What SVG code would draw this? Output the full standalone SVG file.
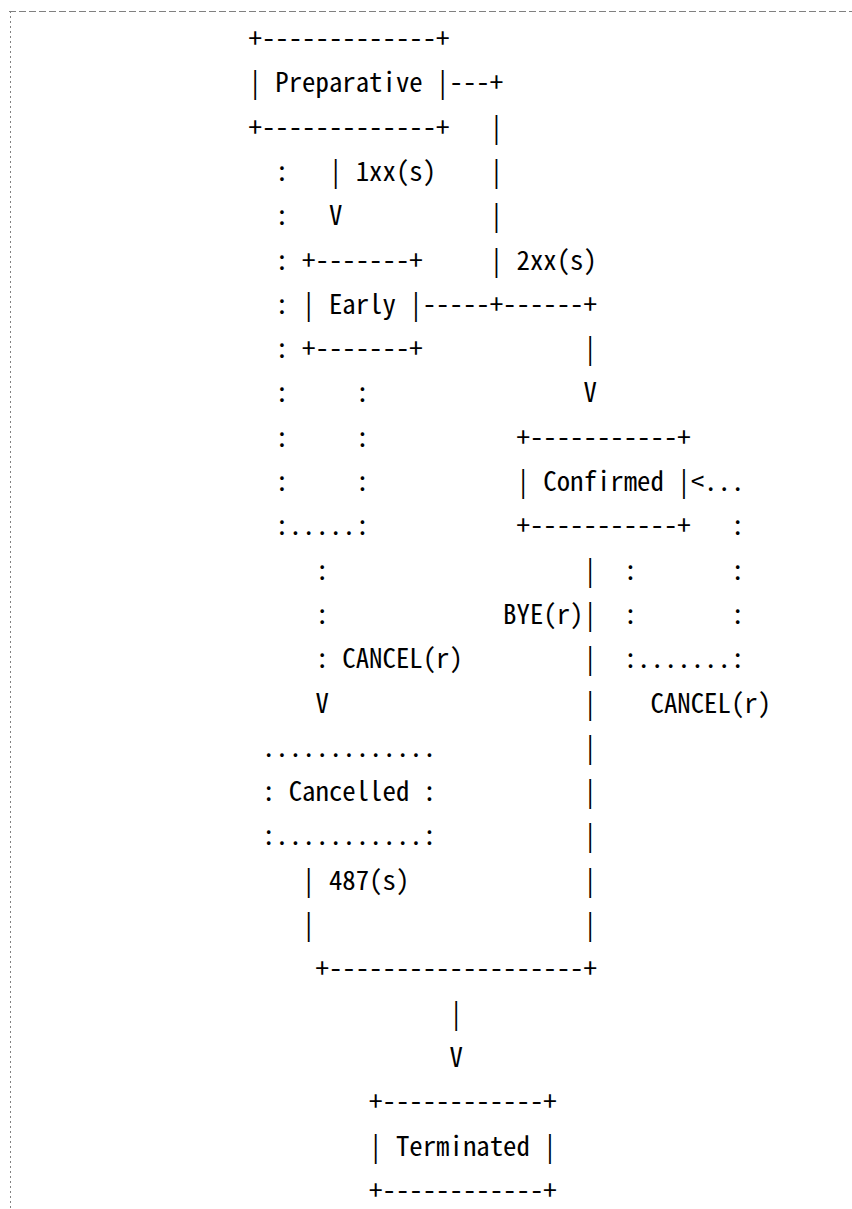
<svg xmlns="http://www.w3.org/2000/svg" width="852" height="1209" viewBox="0 0 852 1209">
<style>
text{font-family:"Noto Sans Mono CJK JP","DejaVu Sans Mono",monospace;font-size:26.8px;fill:#000;white-space:pre}
.f{fill:none;stroke:#808080;stroke-width:1}
</style>
<rect width="852" height="1209" fill="#fff"/>
<g id="frame">
<line class="f" x1="9" y1="11.5" x2="852" y2="11.5" stroke-dasharray="7 3"/>
<line class="f" x1="10.5" y1="11" x2="10.5" y2="1209" stroke-dasharray="2 3"/>
</g>
<g id="node-preparative">
<text x="248.5" y="48" textLength="201" lengthAdjust="spacingAndGlyphs">+-------------+</text>
<text x="248.5" y="92.3">|</text>
<text x="275.3" y="92.3" textLength="147.4" lengthAdjust="spacingAndGlyphs">Preparative</text>
<text x="436.1" y="92.3">|</text>
<text x="248.5" y="136.6" textLength="201" lengthAdjust="spacingAndGlyphs">+-------------+</text>
</g>
<g id="node-early">
<text x="302.1" y="269.5" textLength="120.6" lengthAdjust="spacingAndGlyphs">+-------+</text>
<text x="302.1" y="313.8">|</text>
<text x="328.9" y="313.8" textLength="67" lengthAdjust="spacingAndGlyphs">Early</text>
<text x="409.3" y="313.8">|</text>
<text x="302.1" y="358.1" textLength="120.6" lengthAdjust="spacingAndGlyphs">+-------+</text>
</g>
<g id="node-confirmed">
<text x="516.5" y="446.7" textLength="174.2" lengthAdjust="spacingAndGlyphs">+-----------+</text>
<text x="516.5" y="491">|</text>
<text x="543.3" y="491" textLength="120.6" lengthAdjust="spacingAndGlyphs">Confirmed</text>
<text x="677.3" y="491">|</text>
<text x="516.5" y="535.3" textLength="174.2" lengthAdjust="spacingAndGlyphs">+-----------+</text>
</g>
<g id="node-cancelled">
<text x="261.9" y="756.8" textLength="174.2" lengthAdjust="spacingAndGlyphs">.............</text>
<text x="261.9" y="801.1">:</text>
<text x="288.7" y="801.1" textLength="120.6" lengthAdjust="spacingAndGlyphs">Cancelled</text>
<text x="422.7" y="801.1">:</text>
<text x="261.9" y="845.4" textLength="174.2" lengthAdjust="spacingAndGlyphs">:...........:</text>
</g>
<g id="node-terminated">
<text x="369.1" y="1111.2" textLength="187.6" lengthAdjust="spacingAndGlyphs">+------------+</text>
<text x="369.1" y="1155.5">|</text>
<text x="395.9" y="1155.5" textLength="134" lengthAdjust="spacingAndGlyphs">Terminated</text>
<text x="543.3" y="1155.5">|</text>
<text x="369.1" y="1199.8" textLength="187.6" lengthAdjust="spacingAndGlyphs">+------------+</text>
</g>
<g id="connectors">
<!-- 1xx: Preparative to Early -->
<text x="328.9" y="180.9">|</text>
<text x="355.7" y="180.9" textLength="80.4" lengthAdjust="spacingAndGlyphs">1xx(s)</text>
<text x="328.9" y="225.2">V</text>
<!-- 2xx: Preparative/Early to Confirmed -->
<text x="449.5" y="92.3" textLength="53.6" lengthAdjust="spacingAndGlyphs">---+</text>
<text x="489.7" y="136.6">|</text>
<text x="489.7" y="180.9">|</text>
<text x="489.7" y="225.2">|</text>
<text x="489.7" y="269.5">|</text>
<text x="516.5" y="269.5" textLength="80.4" lengthAdjust="spacingAndGlyphs">2xx(s)</text>
<text x="422.7" y="313.8" textLength="174.2" lengthAdjust="spacingAndGlyphs">-----+------+</text>
<text x="583.5" y="358.1">|</text>
<text x="583.5" y="402.4">V</text>
<!-- CANCEL: Preparative/Early to Cancelled -->
<text x="275.3" y="180.9">:</text>
<text x="275.3" y="225.2">:</text>
<text x="275.3" y="269.5">:</text>
<text x="275.3" y="313.8">:</text>
<text x="275.3" y="358.1">:</text>
<text x="275.3" y="402.4">:</text>
<text x="275.3" y="446.7">:</text>
<text x="275.3" y="491">:</text>
<text x="355.7" y="402.4">:</text>
<text x="355.7" y="446.7">:</text>
<text x="355.7" y="491">:</text>
<text x="275.3" y="535.3" textLength="93.8" lengthAdjust="spacingAndGlyphs">:.....:</text>
<text x="315.5" y="579.6">:</text>
<text x="315.5" y="623.9">:</text>
<text x="315.5" y="668.2">:</text>
<text x="342.3" y="668.2" textLength="120.6" lengthAdjust="spacingAndGlyphs">CANCEL(r)</text>
<text x="315.5" y="712.5">V</text>
<!-- CANCEL loop on Confirmed -->
<text x="690.7" y="491" textLength="53.6" lengthAdjust="spacingAndGlyphs">&lt;...</text>
<text x="730.9" y="535.3">:</text>
<text x="623.7" y="579.6">:</text>
<text x="730.9" y="579.6">:</text>
<text x="623.7" y="623.9">:</text>
<text x="730.9" y="623.9">:</text>
<text x="623.7" y="668.2" textLength="120.6" lengthAdjust="spacingAndGlyphs">:.......:</text>
<text x="650.5" y="712.5" textLength="120.6" lengthAdjust="spacingAndGlyphs">CANCEL(r)</text>
<!-- BYE: Confirmed to Terminated -->
<text x="583.5" y="579.6">|</text>
<text x="503.1" y="623.9" textLength="80.4" lengthAdjust="spacingAndGlyphs">BYE(r)</text>
<text x="583.5" y="623.9">|</text>
<text x="583.5" y="668.2">|</text>
<text x="583.5" y="712.5">|</text>
<text x="583.5" y="756.8">|</text>
<text x="583.5" y="801.1">|</text>
<text x="583.5" y="845.4">|</text>
<text x="583.5" y="889.7">|</text>
<text x="583.5" y="934">|</text>
<!-- 487: Cancelled to Terminated -->
<text x="302.1" y="889.7">|</text>
<text x="328.9" y="889.7" textLength="80.4" lengthAdjust="spacingAndGlyphs">487(s)</text>
<text x="302.1" y="934">|</text>
<text x="315.5" y="978.3" textLength="281.4" lengthAdjust="spacingAndGlyphs">+-------------------+</text>
<text x="449.5" y="1022.6">|</text>
<text x="449.5" y="1066.9">V</text>
</g>
</svg>
